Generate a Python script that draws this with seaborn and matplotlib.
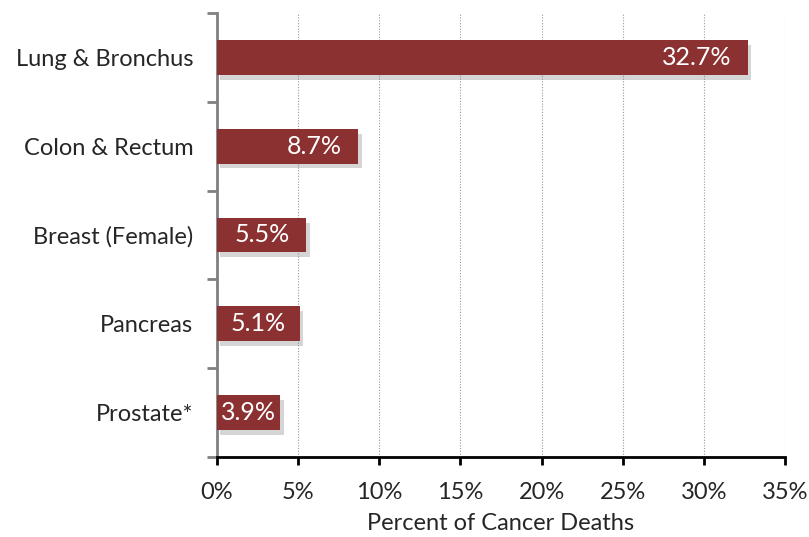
import matplotlib
matplotlib.use("Agg")
import matplotlib.pyplot as plt
import matplotlib.patheffects as pe
from matplotlib.ticker import MultipleLocator, FuncFormatter
import pandas as pd
import seaborn as sns

# Chart data
cancer_sites = ["Lung & Bronchus", "Colon & Rectum", "Breast (Female)", "Pancreas", "Prostate*"]
pct_deaths = [32.7, 8.7, 5.5, 5.1, 3.9]

BAR_COLOR = "#8B3131"
FONT = ["Lato", "DejaVu Sans"]
FS = 17

sns.set_theme(style="white")
plt.rcParams["font.family"] = FONT

df = pd.DataFrame({"site": cancer_sites, "pct": pct_deaths})

fig = plt.figure(figsize=(8.09, 5.37), dpi=100)
ax = fig.add_axes([0.2682, 0.149, 0.7021, 0.8268])

sns.barplot(data=df, x="pct", y="site", color=BAR_COLOR, saturation=1,
            width=0.39, ax=ax, zorder=3)
for bar in ax.patches:
    bar.set_edgecolor("none")
    bar.set_path_effects([pe.SimplePatchShadow(offset=(2.5, -3.5), shadow_rgbFace="#777777", alpha=0.3),
                          pe.Normal()])

ax.set_xlim(0, 35)
ax.set_ylim(4.5, -0.5)

# value labels: inside end, centred when the bar is too short
labels = []
for i, v in enumerate(pct_deaths):
    t = ax.annotate(f"{v}%", xy=(v, i), xytext=(-16, 0), textcoords="offset pixels",
                    ha="right", va="center", color="white", fontsize=18, zorder=5)
    labels.append(t)
fig.canvas.draw()
renderer = fig.canvas.get_renderer()
for i, (v, t) in enumerate(zip(pct_deaths, labels)):
    w = t.get_window_extent(renderer).width
    bar_px = ax.transData.transform((v, 0))[0] - ax.transData.transform((0, 0))[0]
    if w + 2 * 16 > bar_px:
        t.set_horizontalalignment("center")
        t.xy = (v / 2, i)
        t.set_position((0, 0))

ax.xaxis.set_major_locator(MultipleLocator(5))
ax.xaxis.set_major_formatter(FuncFormatter(lambda x, _: f"{x:.0f}%"))
ax.grid(axis="x", color="#999999", linestyle=(0, (1, 1.5)), linewidth=0.8, zorder=0)
ax.set_axisbelow(True)

# y ticks at category boundaries, labels centred
ax.set_yticks([-0.5, 0.5, 1.5, 2.5, 3.5, 4.5])
ax.set_yticklabels([])
ax.set_yticks(range(len(cancer_sites)), minor=True)
ax.set_yticklabels(cancer_sites, minor=True, fontsize=FS)
ax.tick_params(axis="y", which="minor", left=False, length=0, pad=17)
ax.tick_params(axis="y", which="major", left=True, length=7, width=2, color="#808080", direction="out")
ax.tick_params(axis="x", bottom=True, length=6, width=2, color="black", direction="out",
               labelsize=FS, pad=12)

for side in ["top", "right"]:
    ax.spines[side].set_visible(False)
ax.spines["left"].set_color("#808080")
ax.spines["left"].set_linewidth(2)
ax.spines["bottom"].set_color("black")
ax.spines["bottom"].set_linewidth(2)

ax.set_xlabel("Percent of Cancer Deaths", fontsize=FS, labelpad=7)
ax.set_ylabel("")

fig.savefig("out.png", dpi=100)
